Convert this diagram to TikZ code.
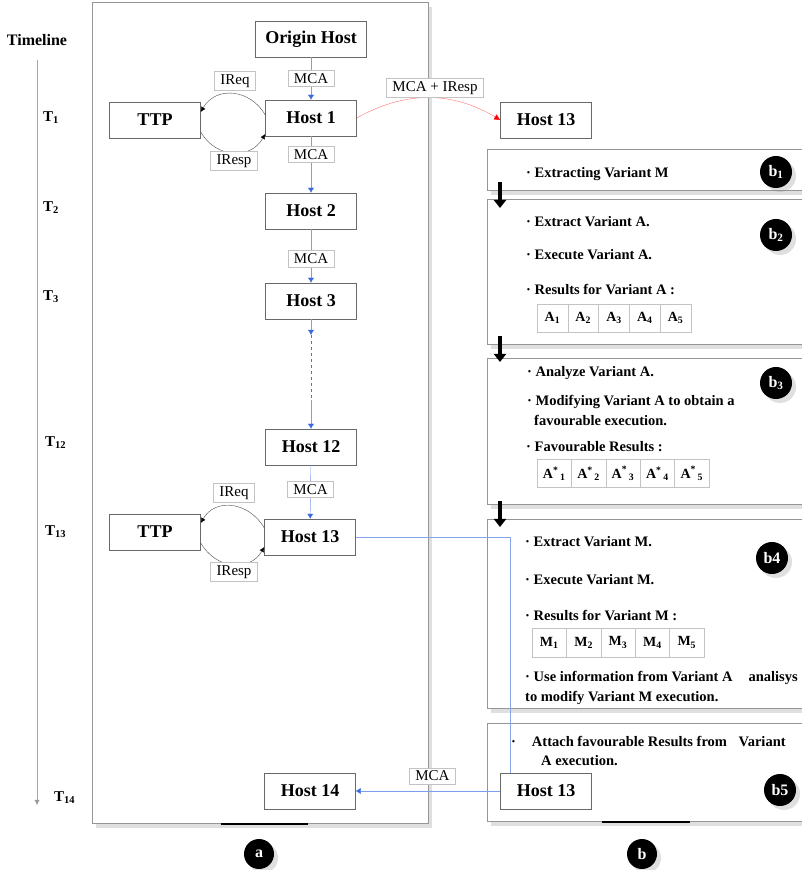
\documentclass[tikz,border=0pt]{standalone}
\usepackage{fontspec}
\setmainfont{Liberation Serif}
\usetikzlibrary{arrows.meta, positioning, shadows}

\definecolor{flowblue}{RGB}{55,105,225}
\definecolor{framegray}{RGB}{105,105,105}
\definecolor{lightframe}{RGB}{195,195,195}

\begin{document}
\begin{tikzpicture}[x=1pt, y=1pt, >=Latex,
  host/.style={draw=framegray, fill=white, text=black, minimum width=91pt, minimum height=36pt,
    inner sep=2pt, font=\fontsize{18}{20}\selectfont\bfseries},
  lbl/.style={draw=lightframe, fill=white, text=black, inner xsep=6pt, inner ysep=3pt,
    font=\fontsize{15}{16}\selectfont},
  flow/.style={flowblue!65, -{Latex[length=5pt,width=6pt,color=flowblue]}},
  loopline/.style={black!70, looseness=1.2, -{Latex[length=5pt,width=5pt,color=black]}},
  cell/.style={draw=lightframe, minimum height=28pt, inner sep=0pt,
    font=\fontsize{14}{16}\selectfont\bfseries},
  bline/.style={anchor=west, inner sep=0pt, font=\fontsize{14.5}{16}\selectfont\bfseries},
  tlab/.style={anchor=west, inner sep=0pt, font=\fontsize{15}{16}\selectfont\bfseries},
  badge/.style={circle, fill=black, text=white, minimum size=32pt, inner sep=0pt,
    font=\fontsize{16}{18}\selectfont\bfseries, panelshadow},
  panelshadow/.style={drop shadow={opacity=0.25, shadow xshift=4pt, shadow yshift=-4pt}},
  stepdown/.style={line width=3.5pt, -{Triangle[length=8pt,width=12pt]}}]

\useasboundingbox (0,0) rectangle (802,870);

% Timeline
\node[font=\fontsize{16}{18}\selectfont\bfseries] (timeline) at (37,830) {Timeline};
\coordinate (tltop) at (37,810);
\coordinate (tlbot) at (37,65);
\draw[black!35, -{Latex[length=5pt,width=5pt,color=black!40]}] (tltop) -- (tlbot);
\node[tlab] (t1) at (43,752) {T\textsubscript{1}};
\node[tlab] (t2) at (43,662) {T\textsubscript{2}};
\node[tlab] (t3) at (43,573) {T\textsubscript{3}};
\node[tlab] (t12) at (45,427) {T\textsubscript{12}};
\node[tlab] (t13) at (45,338) {T\textsubscript{13}};
\node[tlab] (t14) at (54,72) {T\textsubscript{14}};

% Panel a
\draw[framegray!70, line width=1pt, fill=white, panelshadow] (92,46) rectangle (428,867);
\draw[line width=2pt] (221,46) -- (308,46);

% Panel b (five steps)
\path[draw=framegray!70, line width=1pt, fill=white, panelshadow] (802,720) -- (487,720) -- (487,679) -- (802,679);
\path[draw=framegray!70, line width=1pt, fill=white, panelshadow] (802,670) -- (487,670) -- (487,525) -- (802,525);
\path[draw=framegray!70, line width=1pt, fill=white, panelshadow] (802,511) -- (487,511) -- (487,365) -- (802,365);
\path[draw=framegray!70, line width=1pt, fill=white, panelshadow] (802,350) -- (487,350) -- (487,161) -- (802,161);
\path[draw=framegray!70, line width=1pt, fill=white, panelshadow] (802,146) -- (487,146) -- (487,48) -- (802,48);
\draw[line width=2pt] (602,48) -- (690,48);

% step arrows
\coordinate (s1a) at (500,688); \coordinate (s1b) at (500,662);
\coordinate (s2a) at (500,534); \coordinate (s2b) at (500,508);
\coordinate (s3a) at (500,369); \coordinate (s3b) at (500,343);
\draw[stepdown] (s1a) -- (s1b);
\draw[stepdown] (s2a) -- (s2b);
\draw[stepdown] (s3a) -- (s3b);

% Hosts
\node[host, minimum width=111pt] (origin) at (311,831) {Origin Host};
\node[host] (host1) at (311,752) {Host 1};
\node[host] (ttp1) at (155,750) {TTP};
\node[host] (host2) at (311,659) {Host 2};
\node[host] (host3) at (311,569) {Host 3};
\node[host] (host12) at (311,423) {Host 12};
\node[host] (host13a) at (310,333) {Host 13};
\node[host] (ttp2) at (155,338) {TTP};
\node[host] (host14) at (310,79) {Host 14};
\node[host] (host13b) at (546,79) {Host 13};
\node[host] (host13c) at (546,750) {Host 13};

% MCA chain
\draw[flow] (origin) -- (host1) node[lbl, midway] (mca1) {MCA};
\draw[flow] (host1) -- (host2) node[lbl, pos=0.32] (mca2) {MCA};
\draw[flow] (host2) -- (host3) node[lbl, pos=0.55] (mca3) {MCA};
\coordinate (gapA) at (311,535);
\coordinate (gapB) at (311,470);
\draw[flow] (host3) -- (gapA);
\draw[black!55, dashed] (gapA) -- (gapB);
\draw[flow] (gapB) -- (host12);
\draw[flow] (host12) -- (host13a) node[lbl, pos=0.45] (mca4) {MCA};

% TTP exchanges
\draw[loopline] ([yshift=3pt]host1.west) to[out=120, in=60] ([yshift=8pt]ttp1.east);
\draw[loopline] ([yshift=-12pt]ttp1.east) to[out=-60, in=-120] ([yshift=-16pt]host1.west);
\node[lbl] (ireq1) at (235,789) {IReq};
\node[lbl] (iresp1) at (234,709) {IResp};
\draw[loopline] ([yshift=9pt]host13a.west) to[out=120, in=60] ([yshift=9pt]ttp2.east);
\draw[loopline] ([yshift=-11pt]ttp2.east) to[out=-60, in=-120] ([yshift=-10pt]host13a.west);
\node[lbl] (ireq2) at (234,377) {IReq};
\node[lbl] (iresp2) at (234,298) {IResp};

% to the other Host 13
\draw[red!55, -{Latex[length=6pt,width=6pt,color=red]}] (host1.east) to[bend left=30] (host13c.west);
\node[lbl] (mcaresp) at (435,782) {MCA + IResp};

% step texts
\node[bline] (l11) at (526,696) {· Extracting Variant M};
\node[bline] (l21) at (526,648) {· Extract Variant A.};
\node[bline] (l22) at (526,615) {· Execute Variant A.};
\node[bline] (l23) at (526,580) {· Results for Variant A :};
\foreach \i in {1,...,5}
  \node[cell, minimum width=30.8pt] (ra\i) at ({537+30.8*(\i-0.5)},552) {A\textsubscript{\i}};
\node[bline] (l31) at (527,497) {· Analyze Variant A.};
\node[bline] (l32) at (527,468) {· Modifying Variant A to obtain a};
\node[bline] (l33) at (534,449) {favourable execution.};
\node[bline] (l34) at (526,423) {· Favourable Results :};
\foreach \i in {1,...,5}
  \node[cell, minimum width=34.4pt] (fa\i) at ({537+34.4*(\i-0.5)},396.5) {A\textsuperscript{*}\textsubscript{\,\i}};
\node[bline] (l41) at (525,328) {· Extract Variant M.};
\node[bline] (l42) at (525,290) {· Execute Variant M.};
\node[bline] (l43) at (525,254) {· Results for Variant M :};
\foreach \i in {1,...,5}
  \node[cell, minimum width=34.4pt, minimum height=29pt] (rm\i) at ({532+34.4*(\i-0.5)},227.5) {M\textsubscript{\i}};
\node[bline] (l44) at (525,192) {· Use information from Variant A\hspace{1.1em}analisys};
\node[bline] (l45) at (525,172) {to modify Variant M execution.};
\node[bline] (l51) at (511,128) {·\hspace{1.1em}Attach favourable Results from\hspace{0.8em}Variant};
\node[bline] (l52) at (541,109) {A execution.};

% Host 13 sends on to Host 14
\coordinate (turn) at (510,333);
\draw[flowblue!60] (host13a.east) -- (turn) -- (turn |- host13b.north);
\draw[flow] (host13b) -- (host14) node[lbl, pos=0.47, above=7pt] (mca5) {MCA};

% badges
\node[badge] (b1) at (776,698) {b\textsubscript{1}};
\node[badge] (b2) at (776,635) {b\textsubscript{2}};
\node[badge] (b3) at (776,487) {b\textsubscript{3}};
\node[badge] (b4) at (772,312) {b4};
\node[badge] (b5) at (780,80) {b5};
\node[badge, minimum size=30pt] (pa) at (259,16) {a};
\node[badge, minimum size=30pt] (pb) at (642,16) {b};

\end{tikzpicture}
\end{document}
